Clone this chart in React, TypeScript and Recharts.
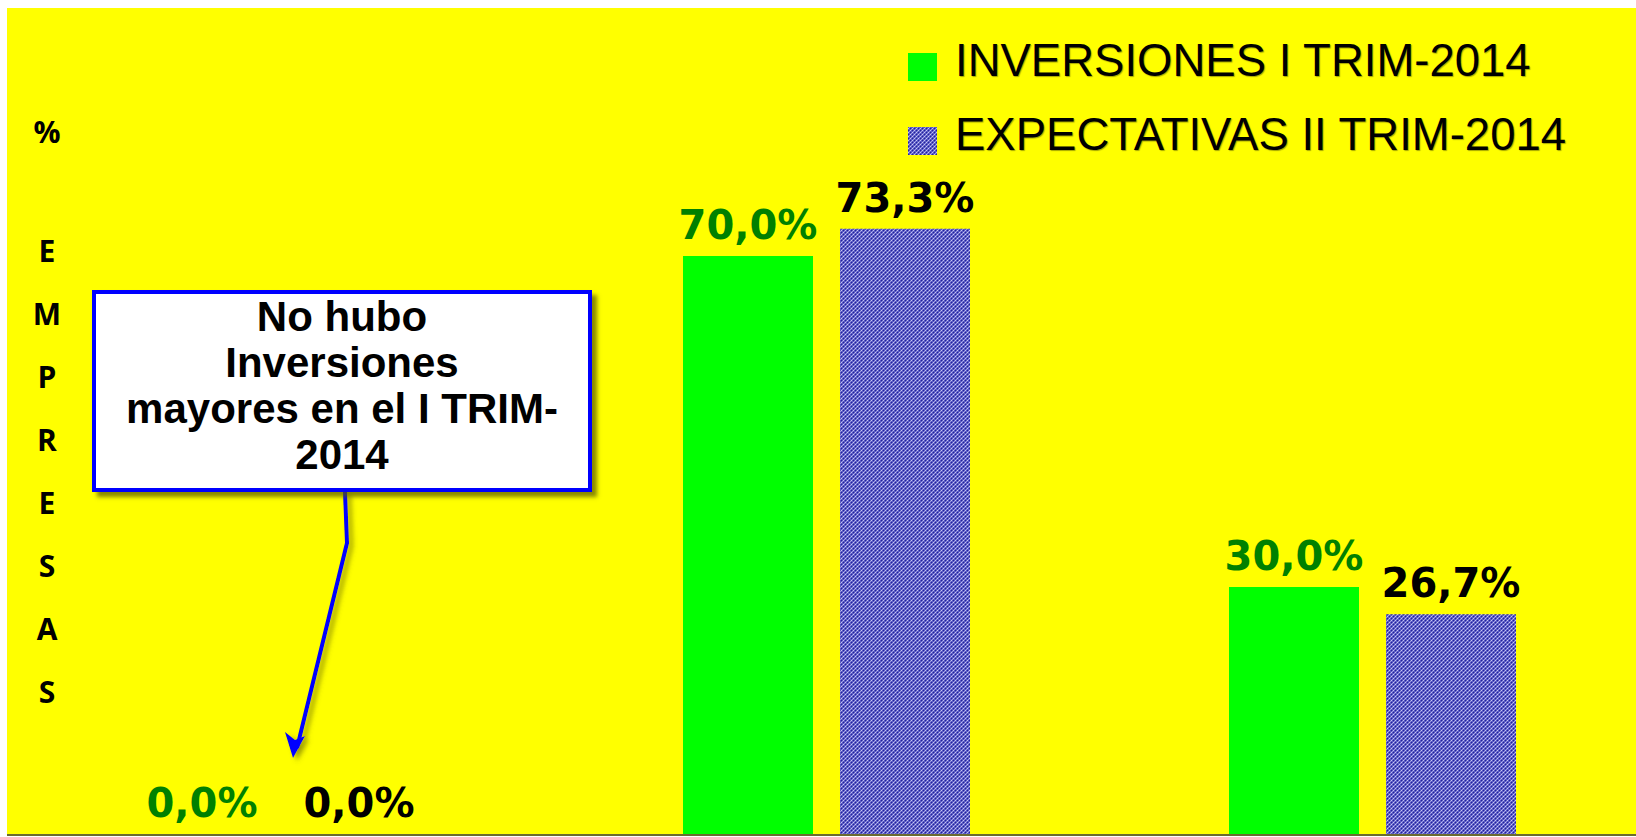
import React from 'react';
import { BarChart, Bar, XAxis, YAxis, CartesianGrid, LabelList } from 'recharts';

const categories = ['Mayores', 'Iguales', 'Menores'];
const inversiones = [0, 70, 30];
const expectativas = [0, 73.3, 26.7];
const seriesNames = ['INVERSIONES I TRIM-2014', 'EXPECTATIVAS II TRIM-2014'];
const axisTitle = ['%', 'E', 'M', 'P', 'R', 'E', 'S', 'A', 'S'];
const calloutLines = ['No hubo', 'Inversiones', 'mayores en el I TRIM-', '2014'];

const chartData = categories.map((cat, i) => ({
  cat,
  inv: inversiones[i],
  exp: expectativas[i]
}));

const fmt = (v: any) => Number(v).toFixed(1).replace('.', ',') + '%';

const CheckerDefs = ({ id }: { id: string }) => (
  <defs>
    <pattern id={id} width="4" height="4" patternUnits="userSpaceOnUse">
      <rect width="4" height="4" fill="#5a5ac4" />
      <rect x="0" y="0" width="1" height="1" fill="#c4c4f2" />
      <rect x="2" y="2" width="1" height="1" fill="#c4c4f2" />
      <rect x="2" y="0" width="1" height="1" fill="#22229a" />
      <rect x="0" y="2" width="1" height="1" fill="#22229a" />
      <rect x="1" y="3" width="1" height="1" fill="#9a9ae0" />
      <rect x="3" y="1" width="1" height="1" fill="#9a9ae0" />
    </pattern>
  </defs>
);

const BoundaryTick = (props: any) => {
  const { x, y } = props;
  // tick marks sit between categories (Excel style), half a band to the left
  const half = 1638 / categories.length / 2;
  return <line x1={x - half} x2={x - half} y1={y} y2={y + 4} stroke="#55552a" strokeWidth={1} />;
};

const labelStyle = { fontFamily: '"DejaVu Sans", Verdana, sans-serif', fontWeight: 'bold', fontSize: 40 } as const;

export default function App() {
  const legendItems = [
    { name: seriesNames[0], fill: '#00ff00', top: 53 },
    { name: seriesNames[1], fill: 'url(#legChecker)', top: 127 }
  ];

  return (
    <div
      style={{
        position: 'fixed',
        left: 0,
        top: 0,
        width: 1636,
        height: 837,
        overflow: 'hidden',
        background: '#fff'
      }}
    >
      <div style={{ position: 'absolute', left: 7, top: 8 }}>
        <BarChart
          width={1638}
          height={829}
          data={chartData}
          margin={{ top: 0, right: 0, left: 0, bottom: 0 }}
          barSize={130}
          barGap={27}
        >
          <CheckerDefs id="blueChecker" />
          <CartesianGrid horizontal={false} vertical={false} fill="#ffff00" />
          <YAxis hide domain={[0, 100]} />
          <Bar dataKey="inv" name={seriesNames[0]} fill="#00ff00" minPointSize={1} isAnimationActive={false}>
            <LabelList dataKey="inv" position="top" offset={17} formatter={fmt} fill="#008000" style={labelStyle} />
          </Bar>
          <Bar dataKey="exp" name={seriesNames[1]} fill="url(#blueChecker)" minPointSize={1} isAnimationActive={false}>
            <LabelList dataKey="exp" position="top" offset={17} formatter={fmt} fill="#000000" style={labelStyle} />
          </Bar>
          <XAxis
            dataKey="cat"
            height={2}
            axisLine={{ stroke: '#6b6b30', strokeWidth: 2 }}
            tickLine={false}
            tickSize={0}
            tick={<BoundaryTick />}
            interval={0}
          />
        </BarChart>
      </div>

      {/* legend */}
      <svg width={1636} height={200} style={{ position: 'absolute', left: 0, top: 0 }}>
        <CheckerDefs id="legChecker" />
        {legendItems.map((it, i) => (
          <g key={i}>
            <rect x={908} y={it.top} width={29} height={28} fill={it.fill} />
            <text
              x={955}
              y={it.top + 23}
              fontFamily='"Liberation Sans", Arial, sans-serif'
              fontSize={45.5}
              fill="#000"
              style={{ textShadow: '1px 1px 1px rgba(0,0,0,0.35)' }}
            >
              {it.name}
            </text>
          </g>
        ))}
      </svg>

      {/* vertical axis title, one letter per line */}
      <svg width={100} height={760} style={{ position: 'absolute', left: 0, top: 0 }}>
        {axisTitle.map((ch, i) => (
          <text
            key={i}
            x={47}
            y={i === 0 ? 131 : 250 + (i - 1) * 63}
            textAnchor="middle"
            dominantBaseline="central"
            fontFamily='"Open Sans", sans-serif'
            fontWeight="bold"
            fontSize={30}
            fill="#000"
          >
            {ch}
          </text>
        ))}
      </svg>

      {/* callout arrow */}
      <svg width={700} height={837} style={{ position: 'absolute', left: 0, top: 0 }}>
        <defs>
          <filter id="arrowShadow" x="-20%" y="-20%" width="140%" height="140%">
            <feDropShadow dx="4" dy="3" stdDeviation="2.5" floodColor="#606000" floodOpacity="0.6" />
          </filter>
        </defs>
        <g filter="url(#arrowShadow)">
          <polyline
            points="345,492 347,543 297,748"
            fill="none"
            stroke="#0000ff"
            strokeWidth={4}
            strokeLinejoin="miter"
          />
          <polygon points="293,758 285,732 295,740 305,736" fill="#0000ff" />
        </g>
      </svg>

      {/* callout box */}
      <div
        style={{
          position: 'absolute',
          left: 92,
          top: 290,
          width: 492,
          height: 194,
          border: '4px solid #0000ff',
          background: '#fff',
          boxShadow: '5px 5px 4px rgba(90,90,0,0.7)',
          fontFamily: '"Liberation Sans", Arial, sans-serif',
          fontWeight: 'bold',
          fontSize: 42,
          lineHeight: '46px',
          textAlign: 'center',
          color: '#000'
        }}
      >
        {calloutLines.map((l, i) => (
          <div key={i}>{l}</div>
        ))}
      </div>
    </div>
  );
}
